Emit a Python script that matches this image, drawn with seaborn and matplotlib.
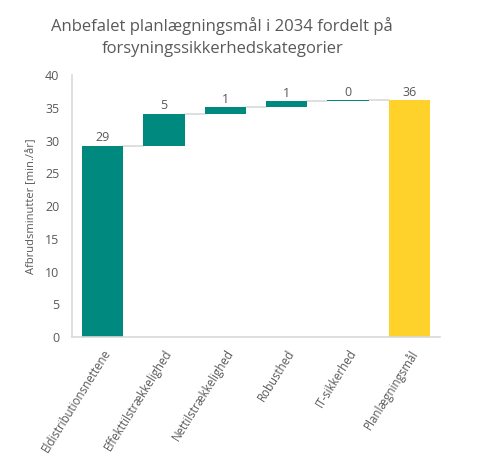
import numpy as np
import pandas as pd
import matplotlib
matplotlib.use("Agg")
import matplotlib.pyplot as plt
import seaborn as sns

categories = ["Eldistributionsnettene", "Effekttilstrækkelighed", "Nettilstrækkelighed",
              "Robusthed", "IT-sikkerhed", "Planlægningsmål"]
steps = [29.2, 4.9, 1.0, 0.9, 0.2]
value_labels = ["29", "5", "1", "1", "0", "36"]

total = sum(steps)
heights = steps + [total]
bottoms = list(np.concatenate([[0], np.cumsum(steps)[:-1]])) + [0]
df = pd.DataFrame({"kategori": categories, "værdi": heights})

teal = "#00897E"
yellow = "#FFD22B"
grey_text = "#595959"
grey_line = "#D9D9D9"

sns.set_theme(style="white")
plt.rcParams["font.family"] = ["Open Sans", "DejaVu Sans"]

fig = plt.figure(figsize=(4.83, 4.58), dpi=100)
ax = fig.add_axes([0.149, 0.264, 0.762, 0.572])

sns.barplot(data=df, x="kategori", y="værdi", order=categories,
            bottom=bottoms, width=0.67, ax=ax, color=teal, saturation=1)

for i, p in enumerate(ax.patches):
    p.set_facecolor(yellow if i == len(categories) - 1 else teal)
    p.set_edgecolor("none")

# connector lines between bars
levels = np.cumsum(steps)
for i, lvl in enumerate(levels):
    ax.plot([i + 0.335, i + 1 - 0.335], [lvl, lvl], color=grey_line, lw=1.2, zorder=0)

ax.bar_label(ax.containers[0], labels=value_labels, padding=1, fontsize=9, color=grey_text)

ax.set_ylim(0, 40)
ax.set_xlim(-0.5, 5.5)
ax.set_yticks(range(0, 41, 5))
ax.set_xlabel("")
ax.set_ylabel("Afbrudsminutter [min./år]", fontsize=8, color=grey_text, labelpad=6)
ax.tick_params(axis="y", length=0, labelsize=9, labelcolor=grey_text, pad=9)
ax.tick_params(axis="x", length=0, labelsize=8.3, labelcolor=grey_text, pad=7)
plt.setp(ax.get_xticklabels(), rotation=58, ha="right", rotation_mode="anchor")

for side in ["top", "right"]:
    ax.spines[side].set_visible(False)
for side in ["left", "bottom"]:
    ax.spines[side].set_color(grey_line)
    ax.spines[side].set_linewidth(1.2)

fig.text(0.46, 0.962, "Anbefalet planlægningsmål i 2034 fordelt på\nforsyningssikkerhedskategorier",
         ha="center", va="top", fontsize=12, color=grey_text, linespacing=1.45)

fig.savefig("out.png", dpi=100, facecolor="white")
